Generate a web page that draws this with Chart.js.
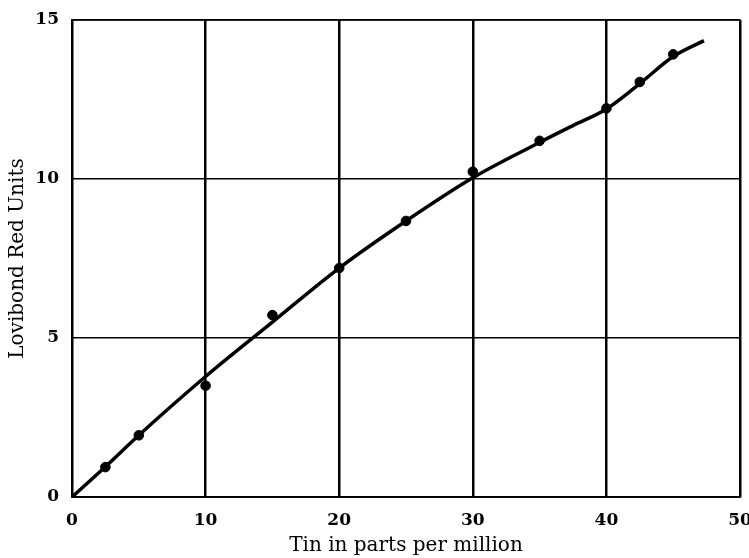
<!DOCTYPE html>
<html>
<head>
<meta charset="utf-8">
<script src="https://cdn.jsdelivr.net/npm/chart.js@4/dist/chart.umd.min.js"></script>
<style>
  html, body { margin: 0; padding: 0; background: #fff; }
  #wrap { width: 749px; height: 558px; }
</style>
</head>
<body>
<div id="wrap"><canvas id="chart" width="749" height="558"></canvas></div>
<script>
// measured points (tin ppm vs Lovibond red units)
const tinPpm   = [2.5, 5, 10, 15, 20, 25, 30, 35, 40, 42.5, 45];
const redUnits = [0.94, 1.94, 3.5, 5.72, 7.2, 8.68, 10.23, 11.2, 12.22, 13.05, 13.92];

// hand-drawn smooth curve through the points
const curveX = [0, 2.5, 5, 10, 15, 20, 25, 30, 35, 37.5, 40, 42.5, 45, 47.3];
const curveY = [0, 0.95, 1.94, 3.79, 5.5, 7.2, 8.68, 10.04, 11.15, 11.68, 12.2, 13.0, 13.85, 14.35];

const xTicks = [0, 10, 20, 30, 40, 50];
const yTicks = [0, 5, 10, 15];

const serif = "'DejaVu Serif', 'Liberation Serif', serif";

new Chart(document.getElementById("chart"), {
  type: 'scatter',
  data: {
    datasets: [
      {
        label: "curve",
        data: curveX.map((x, i) => ({ x: x, y: curveY[i] })),
        showLine: true,
        borderColor: "#000",
        borderWidth: 3.5,
        pointRadius: 0,
        cubicInterpolationMode: 'monotone'
      },
      {
        label: "observed",
        data: tinPpm.map((x, i) => ({ x: x, y: redUnits[i] })),
        backgroundColor: "#000",
        borderColor: "#000",
        pointRadius: 4.8
      }
    ]
  },
  options: {
    responsive: false,
    animation: false,
    layout: { padding: { top: 20, right: 9, left: 0, bottom: 0 } },
    plugins: {
      legend: { display: false },
      tooltip: { enabled: false }
    },
    scales: {
      x: {
        type: 'linear',
        min: 0, max: 50,
        afterBuildTicks: s => { s.ticks = xTicks.map(v => ({ value: v })); },
        afterFit: s => { s.height = 61; s.paddingLeft = 0; s.paddingRight = 0; },
        grid: { color: "#000", lineWidth: 2.5, drawTicks: false },
        border: { color: "#000", width: 1.5 },
        ticks: { color: "#000", padding: 13, font: { family: serif, size: 17, weight: 'bold' } },
        title: {
          display: true,
          text: "Tin in parts per million",
          color: "#000",
          padding: { top: 0, bottom: 0 },
          font: { family: serif, size: 20 }
        }
      },
      y: {
        type: 'linear',
        min: 0, max: 15,
        afterBuildTicks: s => { s.ticks = yTicks.map(v => ({ value: v })); },
        afterFit: s => { s.width = 72; s.paddingTop = 0; s.paddingBottom = 0; },
        grid: { color: "#000", lineWidth: 1.5, drawTicks: false },
        border: { color: "#000", width: 1.5 },
        ticks: { color: "#000", padding: 13, font: { family: serif, size: 17, weight: 'bold' } },
        title: {
          display: true,
          text: "Lovibond Red Units",
          color: "#000",
          padding: { top: 6, bottom: 0 },
          font: { family: serif, size: 20 }
        }
      }
    }
  },
  plugins: [{
    id: 'frame',
    afterDraw(chart) {
      const a = chart.chartArea, c = chart.ctx;
      c.save();
      c.strokeStyle = "#000";
      c.lineWidth = 1.5;
      c.strokeRect(a.left, a.top, a.right - a.left, a.bottom - a.top);
      c.restore();
    }
  }]
});
</script>
</body>
</html>
